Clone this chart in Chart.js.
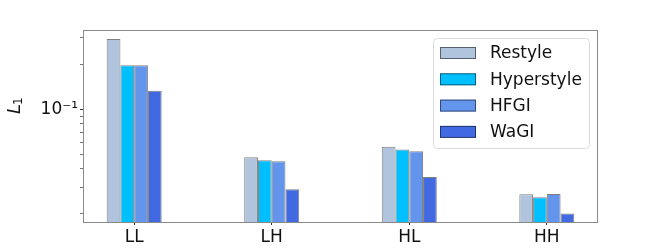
<!DOCTYPE html>
<html>
<head>
<meta charset="utf-8">
<script src="https://cdn.jsdelivr.net/npm/chart.js@4.4.0/dist/chart.umd.min.js"></script>
<style>
  body { margin: 0; background: #fff; }
</style>
</head>
<body>
<canvas id="chart" width="664" height="249"></canvas>
<script>
// data (log scale)
const categories = ['LL', 'LH', 'HL', 'HH'];
const restyle = [0.295, 0.0477, 0.0562, 0.0270];
const hyperstyle = [0.197, 0.0456, 0.0537, 0.0258];
const hfgi = [0.197, 0.0449, 0.0524, 0.0271];
const wagi = [0.133, 0.0292, 0.0352, 0.0201];
const yTicks = [0.02, 0.03, 0.04, 0.05, 0.06, 0.07, 0.08, 0.09, 0.1, 0.2, 0.3];

const FONT = 'DejaVu Sans';
const edge = 'rgba(0, 0, 0, 0.5)';

function makeSet(label, values, color) {
    return {
        label: label,
        data: values.map((v, i) => ({ x: i, y: v })),
        backgroundColor: color,
        borderColor: edge,
        borderWidth: 1,
        categoryPercentage: 0.4,
        barPercentage: 1.0,
    };
}

// frame, legend box and the L_1 axis label
const extras = {
    id: 'extras',
    afterDraw(chart) {
        const ctx = chart.ctx;
        const a = chart.chartArea;
        ctx.save();
        ctx.strokeStyle = '#8a8a8a';
        ctx.lineWidth = 1;
        ctx.strokeRect(a.left + 0.5, a.top + 0.5, a.right - a.left - 1, a.bottom - a.top);

        // legend
        const lx = 433, ly = 38, lw = 156, lh = 110;
        ctx.beginPath();
        ctx.roundRect(lx + 0.5, ly + 0.5, lw, lh, 4);
        ctx.fillStyle = 'rgba(255,255,255,0.8)';
        ctx.fill();
        ctx.strokeStyle = '#dcdcdc';
        ctx.stroke();
        ctx.font = '17px ' + FONT;
        ctx.textBaseline = 'middle';
        chart.data.datasets.forEach((ds, i) => {
            const cy = 53 + i * 26.3;
            ctx.fillStyle = ds.backgroundColor;
            ctx.fillRect(440, cy - 6, 36, 12);
            ctx.strokeStyle = edge;
            ctx.strokeRect(440.5, cy - 5.5, 35, 11);
            ctx.fillStyle = '#111';
            ctx.fillText(ds.label, 490, cy + 1);
        });

        // y label: italic L with subscript 1, rotated
        ctx.translate(20, 114);
        ctx.rotate(-Math.PI / 2);
        ctx.fillStyle = '#111';
        ctx.textBaseline = 'alphabetic';
        ctx.font = 'italic 18px ' + FONT;
        ctx.fillText('L', 0, 0);
        const w = ctx.measureText('L').width;
        ctx.font = '12px ' + FONT;
        ctx.fillText('1', w - 1, 2);
        ctx.restore();
    }
};

new Chart(document.getElementById('chart').getContext('2d'), {
    type: 'bar',
    data: {
        datasets: [
            makeSet('Restyle', restyle, '#B0C4DE'),
            makeSet('Hyperstyle', hyperstyle, '#00BFFF'),
            makeSet('HFGI', hfgi, '#6495ED'),
            makeSet('WaGI', wagi, '#4169E1'),
        ],
    },
    options: {
        responsive: false,
        animation: false,
        devicePixelRatio: 1,
        layout: { padding: { left: 0, right: 66, top: 30, bottom: 0 } },
        plugins: {
            legend: { display: false },
            tooltip: { enabled: false },
        },
        scales: {
            x: {
                type: 'linear',
                min: -0.372,
                max: 3.372,
                offset: false,
                afterBuildTicks: (s) => { s.ticks = categories.map((_, i) => ({ value: i })); },
                afterFit: (s) => { s.height = 27; },
                ticks: {
                    callback: (v) => categories[v],
                    font: { family: FONT, size: 17 },
                    color: '#111',
                    padding: 2,
                    maxRotation: 0,
                    autoSkip: false,
                },
                grid: { drawOnChartArea: false, offset: false, tickLength: 3, tickColor: '#333' },
                border: { display: false },
            },
            y: {
                type: 'logarithmic',
                min: 0.0176,
                max: 0.339,
                afterBuildTicks: (s) => { s.ticks = yTicks.map((v) => ({ value: v })); },
                afterFit: (s) => { s.width = 83; },
                ticks: {
                    callback: (v) => (v === 0.1 ? '10\u207B\u00B9' : ''),
                    font: { family: FONT, size: 17 },
                    color: '#111',
                    padding: 2,
                    autoSkip: false,
                },
                grid: {
                    drawOnChartArea: false,
                    tickLength: 3,
                    tickColor: (c) => (c.tick && c.tick.value === 0.1 ? '#333' : '#777'),
                },
                border: { display: false },
            },
        },
    },
    plugins: [extras],
});
</script>
</body>
</html>
